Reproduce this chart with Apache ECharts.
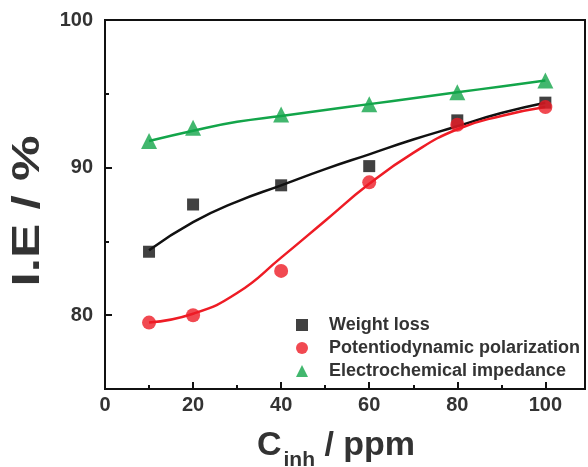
<!DOCTYPE html>
<html><head><meta charset="utf-8">
<script src="https://cdn.jsdelivr.net/npm/echarts@6/dist/echarts.min.js"></script>
<style>html,body{margin:0;padding:0;background:#fff}#c{width:588px;height:467px}</style>
</head><body><div id="c"></div>
<script>
const conc = [10, 20, 40, 60, 80, 100];
const weightLoss = [84.3, 87.5, 88.8, 90.1, 93.2, 94.4];
const potentiodynamic = [79.5, 80.0, 83.0, 89.0, 92.9, 94.1];
const impedance = [91.8, 92.7, 93.6, 94.3, 95.1, 95.9];
const fitX = [10, 20, 30, 40, 50, 60, 70, 80, 90, 100];
const fitWeight = [84.4, 86.3, 87.7, 88.8, 89.9, 90.9, 91.9, 92.8, 93.7, 94.4];
const fitPotentio = [79.5, 80.1, 81.5, 83.9, 86.4, 88.9, 91.0, 92.6, 93.5, 94.1];
const fitImpedance = [91.8, 92.5, 93.1, 93.5, 93.9, 94.3, 94.7, 95.1, 95.5, 95.9];
const yTicks = [80, 90, 100];
const names = ['Weight loss', 'Potentiodynamic polarization', 'Electrochemical impedance'];
const colors = ['#111111', '#ee1c25', '#13a54a'];

const FF = 'Liberation Sans, Arial, sans-serif';
const pair = (xs, ys) => xs.map((x, i) => [x, ys[i]]);
const chart = echarts.init(document.getElementById('c'));
const tickFont = {fontFamily: FF, fontWeight: 'bold', fontSize: 20, color: '#333'};
chart.setOption({
  animation: false,
  grid: {left: 105, top: 20, right: 3, bottom: 78, show: true, borderColor: '#111', borderWidth: 2, containLabel: false, outerBoundsMode: 'none'},
  xAxis: {
    type: 'value', min: 0, max: 109, interval: 20,
    axisLine: {onZero: false, lineStyle: {color: '#111', width: 2}},
    axisTick: {inside: true, length: 7, lineStyle: {color: '#111', width: 2}},
    minorTick: {show: true, splitNumber: 2, length: 4, lineStyle: {color: '#111', width: 2}},
    axisLabel: Object.assign({margin: 6, showMaxLabel: false}, tickFont),
    splitLine: {show: false},
    name: '{b|C}{s|inh}{b| / ppm}', nameLocation: 'middle', nameGap: 31,
    nameTextStyle: {padding: [0, 18, 0, 0], rich: {
      b: {fontFamily: FF, fontWeight: 'bold', fontSize: 34, color: '#333'},
      s: {fontFamily: FF, fontWeight: 'bold', fontSize: 21, color: '#333', verticalAlign: 'bottom', padding: [30, 0, 0, 2]}
    }}
  },
  yAxis: [{
    type: 'value', min: 75, max: 100, interval: 5,
    axisLine: {onZero: false, lineStyle: {color: '#111', width: 2}},
    axisTick: {inside: true, length: 7, customValues: yTicks, lineStyle: {color: '#111', width: 2}},
    axisLabel: Object.assign({margin: 12, customValues: yTicks}, tickFont),
    splitLine: {show: false}
  }, {
    type: 'value', min: 75, max: 100, interval: 5, position: 'left',
    axisLine: {show: false},
    axisTick: {inside: true, length: 4, lineStyle: {color: '#111', width: 2}},
    axisLabel: {show: false},
    splitLine: {show: false}
  }],
  graphic: [{
    type: 'text', x: 29, y: 211, rotation: Math.PI / 2, scaleX: 1.35,
    style: {text: 'I.E / %', font: 'bold 38px ' + FF, fill: '#333', align: 'center', verticalAlign: 'middle'}
  }],
  legend: {
    data: names, orient: 'vertical', left: 291, top: 311, itemGap: 5,
    itemWidth: 12, itemHeight: 12,
    textStyle: {fontFamily: FF, fontWeight: 'bold', fontSize: 18, color: '#333', padding: [0, 0, 0, 16]}
  },
  series: [
    {type: 'line', data: pair(fitX, fitWeight), smooth: true, symbol: 'none', lineStyle: {color: colors[0], width: 2.5}, z: 2, silent: true},
    {type: 'line', data: pair(fitX, fitPotentio), smooth: true, symbol: 'none', lineStyle: {color: colors[1], width: 2.5}, z: 2, silent: true},
    {type: 'line', data: pair(fitX, fitImpedance), smooth: true, symbol: 'none', lineStyle: {color: colors[2], width: 2.5}, z: 2, silent: true},
    {name: names[0], type: 'scatter', data: pair(conc, weightLoss), symbol: 'rect', symbolSize: 12, itemStyle: {color: colors[0]}, z: 3},
    {name: names[1], type: 'scatter', data: pair(conc, potentiodynamic), symbol: 'circle', symbolSize: 14, itemStyle: {color: colors[1]}, z: 3},
    {name: names[2], type: 'scatter', data: pair(conc, impedance), symbol: 'triangle', symbolSize: 16, itemStyle: {color: colors[2]}, z: 3}
  ]
});
</script></body></html>
